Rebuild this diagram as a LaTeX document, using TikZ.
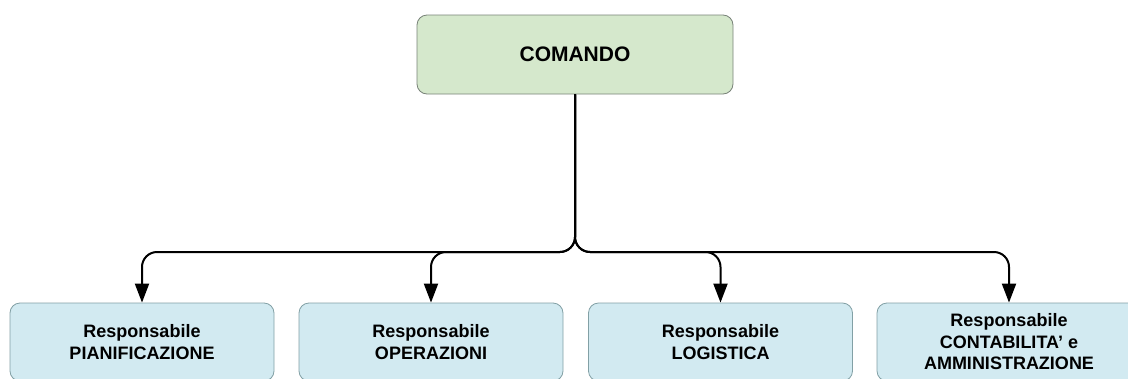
\documentclass[tikz,border=0pt]{standalone}
\usepackage{fontspec}
\setmainfont{Liberation Sans}
\usetikzlibrary{arrows.meta}
\definecolor{topfill}{RGB}{213,232,204}
\definecolor{topdraw}{RGB}{120,130,120}
\definecolor{botfill}{RGB}{210,234,241}
\definecolor{botdraw}{RGB}{130,160,165}
\begin{document}
\begin{tikzpicture}[x=1pt,y=1pt,
  topbox/.style={draw=topdraw,fill=topfill,line width=0.8pt,rounded corners=10pt,
    minimum width=316pt,minimum height=79pt,inner sep=0pt,
    font=\fontsize{21}{25}\selectfont\bfseries},
  botbox/.style={draw=botdraw,fill=botfill,line width=0.8pt,rounded corners=10pt,
    minimum width=264pt,minimum height=78pt,inner sep=0pt,align=center,
    font=\fontsize{18}{21.5}\selectfont\bfseries},
  conn/.style={line width=2pt,rounded corners=15pt,-{Triangle[width=14pt,length=19pt]}}]
\useasboundingbox (0,0) rectangle (1128,-378);
\node[topbox] (top) at (575,-54.5) {COMANDO};
\node[botbox] (b1) at (142,-342) {Responsabile\\PIANIFICAZIONE};
\node[botbox] (b2) at (431,-342) {Responsabile\\OPERAZIONI};
\node[botbox] (b3) at (720.5,-342) {Responsabile\\LOGISTICA};
\node[botbox] (b4) at (1009,-342) {Responsabile\\CONTABILITA' e\\AMMINISTRAZIONE};
\coordinate (bus) at (575,-252);
\foreach \b in {b1,b2,b3,b4}{
  \draw[conn] (top.south) -- (bus) -| (\b.north);
}
\end{tikzpicture}
\end{document}
